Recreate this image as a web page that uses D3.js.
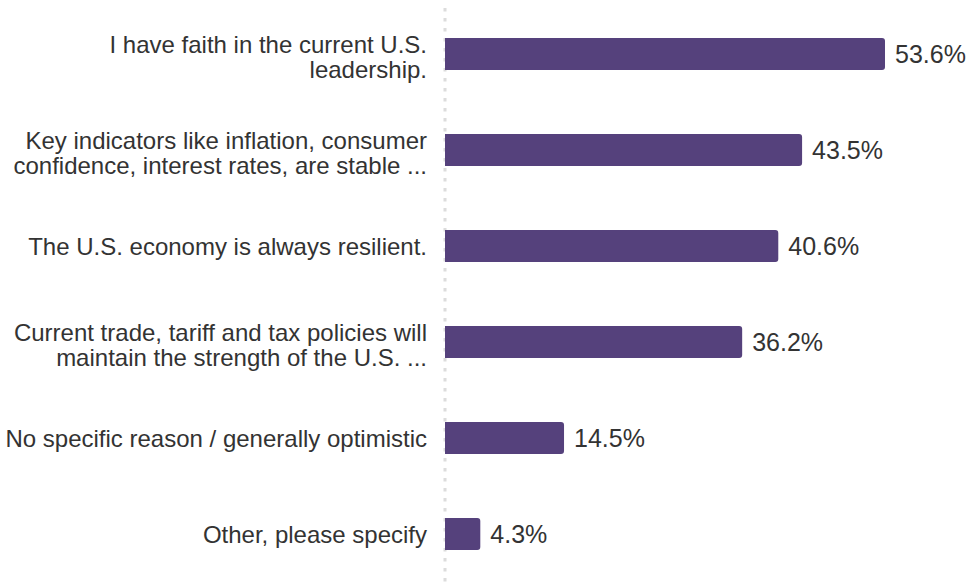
<!DOCTYPE html>
<html>
<head>
<meta charset="utf-8">
<script src="https://cdn.jsdelivr.net/npm/d3@7"></script>
<style>
  html, body { margin: 0; padding: 0; background: #ffffff; }
  svg { display: block; }
</style>
</head>
<body>
<svg id="chart" width="971" height="586"></svg>
<script>
const categories = [
  ["I have faith in the current U.S.", "leadership."],
  ["Key indicators like inflation, consumer", "confidence, interest rates, are stable ..."],
  ["The U.S. economy is always resilient."],
  ["Current trade, tariff and tax policies will", "maintain the strength of the U.S. ..."],
  ["No specific reason / generally optimistic"],
  ["Other, please specify"]
];
const values = [53.6, 43.5, 40.6, 36.2, 14.5, 4.3];
const valueLabels = ["53.6%", "43.5%", "40.6%", "36.2%", "14.5%", "4.3%"];

const W = 971, H = 586;
const x0 = 445;
const svg = d3.select("#chart");

const x = d3.scaleLinear().domain([0, 53.6]).range([x0, 885]);
const ids = categories.map((d, i) => i);
const y = d3.scaleBand().domain(ids).range([6, 582]).paddingInner(2/3).paddingOuter(1/3);

// dotted baseline
svg.append("line")
  .attr("x1", x0).attr("x2", x0)
  .attr("y1", 8).attr("y2", H)
  .attr("stroke", "#dcdcdc")
  .attr("stroke-width", 3)
  .attr("stroke-dasharray", "3.5,6.5");

const r = 3;
function barPath(i) {
  const xs = x(0), xe = x(values[i]), yt = y(i), h = y.bandwidth();
  const p = d3.path();
  p.moveTo(xs, yt);
  p.lineTo(xe - r, yt);
  p.quadraticCurveTo(xe, yt, xe, yt + r);
  p.lineTo(xe, yt + h - r);
  p.quadraticCurveTo(xe, yt + h, xe - r, yt + h);
  p.lineTo(xs, yt + h);
  p.closePath();
  return p.toString();
}

svg.append("g").selectAll("path")
  .data(ids).join("path")
  .attr("d", d => barPath(d))
  .attr("fill", "#55417c");

// value labels
svg.append("g").selectAll("text")
  .data(ids).join("text")
  .attr("x", d => x(values[d]) + 10)
  .attr("y", d => y(d) + y.bandwidth() / 2)
  .attr("dy", "0.36em")
  .attr("font-family", "Liberation Sans, Arial, sans-serif")
  .attr("font-size", 25)
  .attr("fill", "#333333")
  .text(d => valueLabels[d]);

// category labels
const lineH = 25;
const lab = svg.append("g").selectAll("text")
  .data(ids).join("text")
  .attr("text-anchor", "end")
  .attr("font-family", "Liberation Sans, Arial, sans-serif")
  .attr("font-size", 24)
  .attr("fill", "#333333");
lab.each(function(d) {
  const t = d3.select(this);
  const n = categories[d].length;
  const cy = y(d) + y.bandwidth() / 2;
  const firstBase = n === 1 ? cy + 8.6 : cy - 1.2;
  categories[d].forEach((line, k) => {
    t.append("tspan").attr("x", 427).attr("y", firstBase + k * lineH).text(line);
  });
});
</script>
</body>
</html>
